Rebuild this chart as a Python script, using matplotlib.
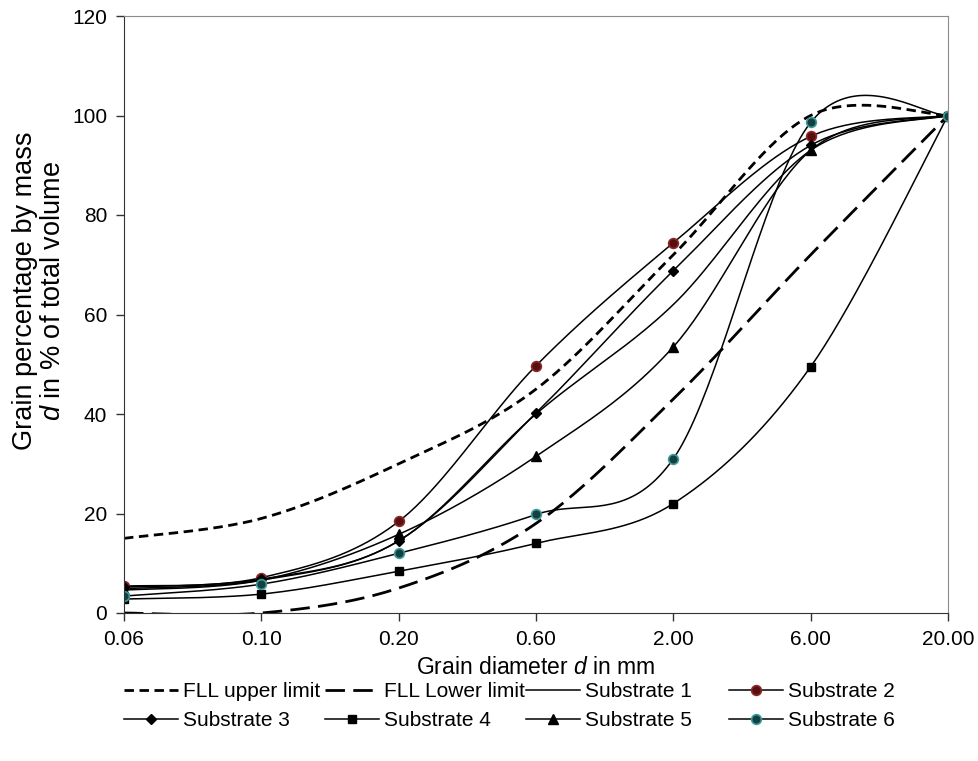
import matplotlib

matplotlib.use("Agg")

import matplotlib.pyplot as plt
import numpy as np

plt.rcParams["font.family"] = ["Liberation Sans", "DejaVu Sans"]
plt.rcParams["mathtext.fontset"] = "custom"
plt.rcParams["mathtext.rm"] = "Liberation Sans"
plt.rcParams["mathtext.it"] = "Liberation Sans:italic"

# grain sizes (mm) shown as equally spaced categories
grain_sizes = ["0.06", "0.10", "0.20", "0.60", "2.00", "6.00", "20.00"]

fll_upper = [15, 19, 30, 45, 72, 100, 100]
fll_lower = [0, 0, 5, 18, 43, 72, 100]
substrate_1 = [4.9, 6.6, 14.5, 40, 62, 93, 100]
substrate_2 = [5.4, 7.1, 18.4, 49.7, 74.4, 95.8, 100]
substrate_3 = [5.2, 6.8, 14.5, 40.2, 68.8, 94, 100]
substrate_4 = [2.8, 3.8, 8.4, 14, 22, 49.5, 100]
substrate_5 = [4.6, 6.6, 15.8, 31.5, 53.5, 93, 100]
substrate_6 = [3.4, 5.8, 12, 19.8, 31, 98.6, 100]

N_SEG = 40


def smooth(values):
    # bezier smoothing like the spreadsheet "smoothed line" option
    pts = np.column_stack([np.arange(len(values)), np.asarray(values, float)])
    P = np.vstack([pts[0], pts, pts[-1]])
    t = np.linspace(0, 1, N_SEG, endpoint=False)[:, None]
    parts = []
    for i in range(1, len(P) - 2):
        p0, p1, p2, p3 = P[i - 1], P[i], P[i + 1], P[i + 2]
        c1 = p1 + (p2 - p0) / 6
        c2 = p2 - (p3 - p1) / 6
        seg = ((1 - t) ** 3) * p1 + 3 * ((1 - t) ** 2) * t * c1 \
            + 3 * (1 - t) * t ** 2 * c2 + t ** 3 * p2
        parts.append(seg)
    parts.append(pts[-1][None, :])
    xy = np.vstack(parts)
    return xy[:, 0], xy[:, 1]


fig = plt.figure(figsize=(9.79, 7.61), dpi=100)
ax = fig.add_axes([124 / 979, 1 - 613 / 761, (948 - 124) / 979, (613 - 16) / 761])

x, y = smooth(fll_upper)
ax.plot(x, y, color="black", lw=2, dashes=(3.4, 2.0), label="FLL upper limit")
x, y = smooth(fll_lower)
ax.plot(x, y, color="black", lw=2, dashes=(7, 3), label="FLL Lower limit")
x, y = smooth(substrate_1)
ax.plot(x, y, color="black", lw=1.1, label="Substrate 1")
x, y = smooth(substrate_2)
ax.plot(x, y, color="black", lw=1.1, marker="o", ms=7, mfc="#561010", mec="#8f2626",
        mew=1.2, markevery=N_SEG, label="Substrate 2")
x, y = smooth(substrate_3)
ax.plot(x, y, color="black", lw=1.1, marker="D", ms=5, mfc="black", mec="black",
        markevery=N_SEG, label="Substrate 3")
x, y = smooth(substrate_4)
ax.plot(x, y, color="black", lw=1.1, marker="s", ms=6, mfc="black", mec="black",
        markevery=N_SEG, label="Substrate 4")
x, y = smooth(substrate_5)
ax.plot(x, y, color="black", lw=1.1, marker="^", ms=7, mfc="black", mec="black",
        markevery=N_SEG, label="Substrate 5")
x, y = smooth(substrate_6)
ax.plot(x, y, color="black", lw=1.1, marker="o", ms=7, mfc="#163f3f", mec="#3b9a9a",
        mew=1.2, markevery=N_SEG, label="Substrate 6")

ax.set_xlim(0, len(grain_sizes) - 1)
ax.set_ylim(0, 120)
ax.set_xticks(range(len(grain_sizes)))
ax.set_xticklabels(grain_sizes)
ax.set_yticks(range(0, 121, 20))
ax.tick_params(axis="both", direction="out", length=6, width=1, labelsize=15,
               color="#333333", pad=6)

for side in ["left", "bottom"]:
    ax.spines[side].set_color("#333333")
for side in ["top", "right"]:
    ax.spines[side].set_color("#8c8c8c")

ax.set_xlabel("Grain diameter $d$ in mm", fontsize=16.5, labelpad=5)
ax.set_ylabel("Grain percentage by mass\n$d$ in % of total volume", fontsize=19.5,
              linespacing=1.1)
ax.yaxis.set_label_coords(-0.07, 0.54)

# legend laid out as four columns, entries ordered row by row
handles, labels = ax.get_legend_handles_labels()
col_x = [124, 325, 526, 729]
for j, cx in enumerate(col_x):
    fig.legend(handles[j::4], labels[j::4], loc="upper left",
               bbox_to_anchor=(cx / 979, 1 - 682 / 761), frameon=False,
               fontsize=15, handlelength=2.6, handletextpad=0.25,
               labelspacing=0.5, borderpad=0, borderaxespad=0)

plt.savefig("out.png", dpi=100)
plt.close()
